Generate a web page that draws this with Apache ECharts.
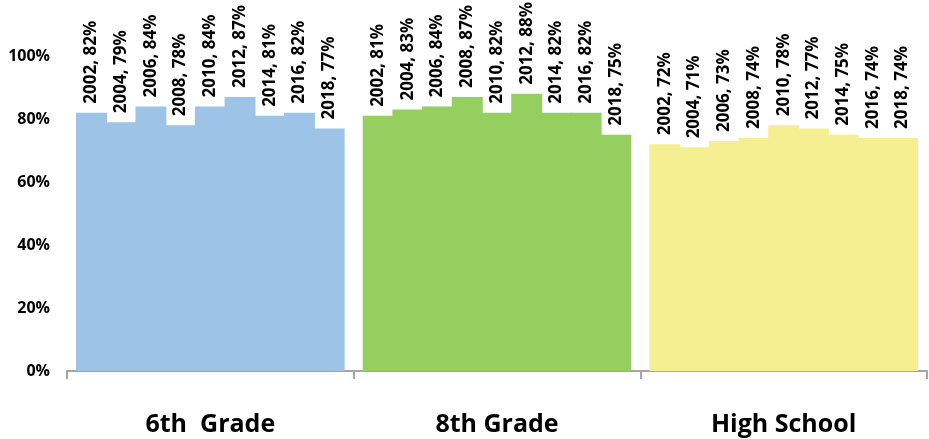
<!DOCTYPE html>
<html>
<head>
<meta charset="utf-8">
<script src="https://cdn.jsdelivr.net/npm/echarts@6/dist/echarts.min.js"></script>
<style>html,body{margin:0;padding:0;background:#fff}#c{width:929px;height:439px}</style>
</head>
<body>
<div id="c"></div>
<script>
const years = ['2002','2004','2006','2008','2010','2012','2014','2016','2018'];
const groups = ['6th  Grade','8th Grade','High School'];
const sixth = [82,79,84,78,84,87,81,82,77];
const eighth = [81,83,84,87,82,88,82,82,75];
const high = [72,71,73,74,78,77,75,74,74];
const yTicks = [0,20,40,60,80,100];
const groupColors = ['#9dc3e6','#95cf5f','#f6ef91'];

const chart = echarts.init(document.getElementById('c'));
const font = '"Open Sans", Lato, sans-serif';
const series = years.map((y, i) => ({
  name: y,
  type: 'bar',
  barGap: '-4%',
  barCategoryGap: '6.3%',
  data: [sixth[i], eighth[i], high[i]].map((v, g) => ({
    value: v,
    itemStyle: {color: groupColors[g]}
  })),
  label: {
    show: true,
    position: 'top',
    rotate: 90,
    align: 'left',
    verticalAlign: 'middle',
    distance: 9,
    formatter: p => p.seriesName + ', ' + p.value + '%',
    fontFamily: font,
    fontWeight: 'bold',
    fontSize: 17,
    color: '#000'
  }
}));

chart.setOption({
  animation: false,
  grid: {left: 67, right: 2, top: 56, bottom: 68, outerBoundsMode: 'none'},
  xAxis: {
    type: 'category',
    data: groups,
    axisLine: {lineStyle: {color: '#a6a6a6', width: 2}},
    axisTick: {show: true, length: 8, lineStyle: {color: '#a6a6a6', width: 2}},
    axisLabel: {margin: 41, fontFamily: font, fontWeight: 'bold', fontSize: 25, color: '#000'}
  },
  yAxis: {
    type: 'value',
    min: yTicks[0],
    max: yTicks[yTicks.length - 1],
    interval: yTicks[1] - yTicks[0],
    splitLine: {show: false},
    axisLine: {show: false},
    axisTick: {show: false},
    axisLabel: {formatter: '{value}%', fontFamily: font, fontWeight: 'bold', fontSize: 16, color: '#000', margin: 17}
  },
  series: series
});
</script>
</body>
</html>
